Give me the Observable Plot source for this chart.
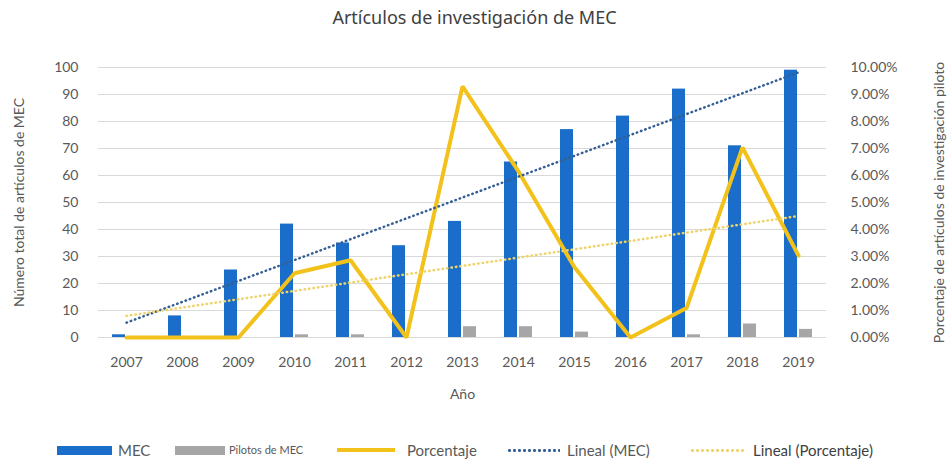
<!DOCTYPE html>
<html>
<head>
<meta charset="utf-8">
<script src="https://cdn.jsdelivr.net/npm/d3@7"></script>
<script src="https://cdn.jsdelivr.net/npm/@observablehq/plot@0.6"></script>
<style>
  body { margin: 0; background: white; }
  #wrap { position: relative; width: 949px; height: 464px; overflow: hidden; background: white; }
  #title { position: absolute; left: 0; top: 0; width: 949px; height: 34px; line-height: 34px; text-align: center;
           font-family: "Noto Sans", "Open Sans", sans-serif; font-size: 18px; color: #404040; }
  #chart { position: absolute; left: 0; top: 40px; }
  .lg { position: absolute; font-family: Lato, "Open Sans", sans-serif; color: #595959; white-space: nowrap; }
  .sw { position: absolute; }
</style>
</head>
<body>
<div id="wrap">
  <div id="title">Artículos de investigación de MEC</div>
  <div id="chart"></div>
  <div id="legend"></div>
</div>
<script>
const years = ["2007","2008","2009","2010","2011","2012","2013","2014","2015","2016","2017","2018","2019"];
const mec = [1, 8, 25, 42, 35, 34, 43, 65, 77, 82, 92, 71, 99];
const pilotos = [0, 0, 0, 1, 1, 0, 4, 4, 2, 0, 1, 5, 3];
const porcentaje = [0, 0, 0, 2.38, 2.86, 0, 9.30, 6.15, 2.60, 0, 1.09, 7.04, 3.03];
const trendYears = ["2007", "2019"];
const trendMEC = [5.5, 98.2];
const trendPct = [0.80, 4.50];
const leftTicks = [0,10,20,30,40,50,60,70,80,90,100];

const data = years.map((y, i) => ({year: y, mec: mec[i], pilotos: pilotos[i], pct: porcentaje[i]}));
const tMEC = trendYears.map((y, i) => ({year: y, v: trendMEC[i]}));
const tPct = trendYears.map((y, i) => ({year: y, v: trendPct[i]}));

const BLUE = "#1a6dc8", GRAY = "#a6a6a6", YELLOW = "#f2c21b", TBLUE = "#345f95", TYELLOW = "#eed36a";

const chart = Plot.plot({
  width: 949,
  height: 370,
  marginLeft: 98,
  marginRight: 123,
  marginTop: 27,
  marginBottom: 73,
  x: {domain: years, padding: 0, label: null},
  y: {domain: [0, 100], label: null},
  style: {fontFamily: "Lato, 'Open Sans', sans-serif", fontSize: "14px", color: "#595959", background: "white", overflow: "visible"},
  marks: [
    Plot.gridY(leftTicks, {stroke: "#d9d9d9", strokeOpacity: 1}),
    Plot.axisY(leftTicks, {tickSize: 0, tickPadding: 20, label: "Número total de artículos de MEC", labelAnchor: "center", labelArrow: "none", labelOffset: 84}),
    Plot.axisY(leftTicks, {anchor: "right", tickSize: 0, tickPadding: 24, tickFormat: d => (d / 10).toFixed(2) + "%",
      label: "Porcentaje de artículos de investigación piloto", labelAnchor: "center", labelArrow: "none", labelOffset: 117}),
    Plot.axisX({tickSize: 0, tickPadding: 20, label: "Año", labelAnchor: "center", labelArrow: "none", labelOffset: 61}),
    Plot.barY(data, {x: "year", y: "mec", fill: BLUE, insetLeft: 14, insetRight: 29}),
    Plot.barY(data, {x: "year", y: "pilotos", fill: GRAY, insetLeft: 29, insetRight: 14}),
    Plot.line(data, {x: "year", y: d => d.pct * 10, stroke: YELLOW, strokeWidth: 4, strokeLinejoin: "miter"}),
    Plot.line(tMEC, {x: "year", y: "v", stroke: TBLUE, strokeWidth: 2.5, strokeDasharray: "0.5,4", strokeLinecap: "round"}),
    Plot.line(tPct, {x: "year", y: d => d.v * 10, stroke: TYELLOW, strokeWidth: 2.5, strokeDasharray: "0.5,4", strokeLinecap: "round"})
  ]
});
document.getElementById("chart").appendChild(chart);

// Legend
const wrap = document.getElementById("wrap");
function sw(x1, x2, h, css) {
  const d = document.createElement("div");
  d.className = "sw";
  d.style.left = x1 + "px"; d.style.width = (x2 - x1) + "px";
  d.style.top = (450 - h / 2) + "px"; d.style.height = h + "px";
  Object.assign(d.style, css);
  wrap.appendChild(d);
}
function lt(x, text, size, color) {
  const d = document.createElement("div");
  d.className = "lg";
  d.style.left = x + "px"; d.style.top = (450 - size * 0.62) + "px";
  d.style.fontSize = size + "px"; d.style.lineHeight = "1.2";
  if (color) d.style.color = color;
  d.textContent = text;
  wrap.appendChild(d);
}
sw(57, 112, 9, {background: BLUE});
lt(118, "MEC", 15);
sw(175, 225, 9, {background: GRAY});
lt(229, "Pilotos de MEC", 11);
sw(337, 395, 4, {background: YELLOW});
lt(407, "Porcentaje", 15);
sw(507, 560, 3, {backgroundImage: `radial-gradient(circle, ${TBLUE} 45%, transparent 55%)`, backgroundSize: "5px 3px"});
lt(567, "Lineal (MEC)", 15);
sw(690, 745, 3, {backgroundImage: `radial-gradient(circle, ${TYELLOW} 45%, transparent 55%)`, backgroundSize: "5px 3px"});
lt(753, "Lineal (Porcentaje)", 15, "#404040");
</script>
</body>
</html>
